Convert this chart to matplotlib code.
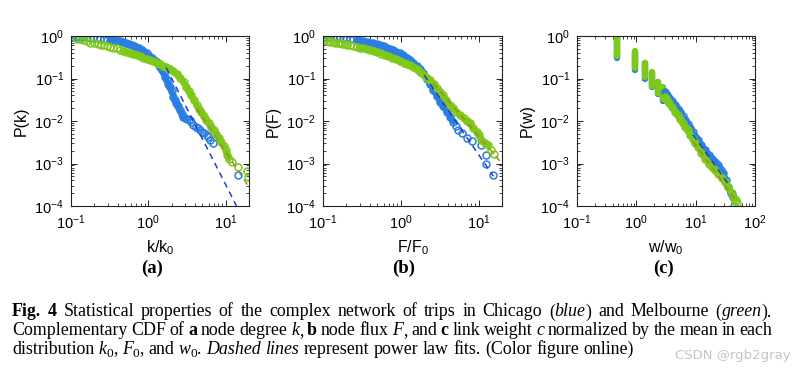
import matplotlib
matplotlib.use("Agg")
import matplotlib.pyplot as plt
from matplotlib.transforms import IdentityTransform
import numpy as np

plt.rcParams['font.family'] = ['Liberation Sans', 'DejaVu Sans']
plt.rcParams['mathtext.default'] = 'regular'

# ---- data (CCDFs, Chicago = blue, Melbourne = green)
# (a) node degree
chi_k_x = [0.100, 0.107, 0.115, 0.123, 0.132, 0.145, 0.160, 0.175, 0.190, 0.215,
           0.240, 0.265, 0.290, 0.320, 0.350, 0.390, 0.430, 0.470, 0.520, 0.560,
           0.610, 0.660, 0.700, 0.760, 0.820, 0.880, 0.950, 1.02, 1.10, 1.19,
           1.28, 1.36, 1.43, 1.50, 1.57, 1.64, 1.72, 1.80, 1.90, 2.00,
           2.10, 2.20, 2.30, 2.43, 2.55, 2.70, 2.83, 3.00, 3.20, 3.44,
           3.60, 3.80, 4.10, 4.42, 4.65, 4.88, 5.30, 5.67, 5.95, 6.25,
           6.90, 14.5]
chi_k_y = [0.93, 0.95, 0.95, 0.94, 0.94, 0.93, 0.93, 0.92, 0.91, 0.88,
           0.86, 0.84, 0.81, 0.80, 0.79, 0.78, 0.75, 0.73, 0.70, 0.66,
           0.62, 0.58, 0.56, 0.51, 0.46, 0.42, 0.39, 0.34, 0.30, 0.27,
           0.25, 0.21, 0.19, 0.16, 0.135, 0.11, 0.09, 0.075, 0.064, 0.050,
           0.037, 0.031, 0.026, 0.022, 0.018, 0.015, 0.0126, 0.0118, 0.0112, 0.0106,
           0.0095, 0.0081, 0.0074, 0.0067, 0.0061, 0.0056, 0.0052, 0.0047, 0.0042, 0.0036,
           0.0030, 0.00054]
mel_k_x = [0.120, 0.131, 0.145, 0.160, 0.176, 0.200, 0.225, 0.245, 0.265, 0.290,
           0.320, 0.350, 0.390, 0.430, 0.474, 0.520, 0.580, 0.640, 0.705, 0.780,
           0.860, 0.950, 1.05, 1.15, 1.28, 1.41, 1.55, 1.70, 1.90, 2.10,
           2.35, 2.60, 2.85, 3.10, 3.35, 3.60, 3.90, 4.20, 4.50, 4.80,
           5.20, 5.60, 6.00, 6.50, 7.00, 7.60, 8.20, 8.80, 9.40, 10.0,
           10.5, 11.0, 12.0, 14.3, 18.8, 19.3]
mel_k_y = [0.86, 0.84, 0.80, 0.75, 0.70, 0.68, 0.65, 0.63, 0.61, 0.585,
           0.56, 0.535, 0.51, 0.48, 0.45, 0.43, 0.40, 0.38, 0.357, 0.33,
           0.305, 0.29, 0.275, 0.255, 0.235, 0.215, 0.20, 0.185, 0.17, 0.15,
           0.13, 0.105, 0.082, 0.064, 0.050, 0.040, 0.031, 0.024, 0.019, 0.016,
           0.013, 0.0108, 0.0090, 0.0074, 0.0062, 0.0050, 0.0040, 0.0032, 0.0026, 0.0021,
           0.0016, 0.0013, 0.0011, 0.00084, 0.00066, 0.00048]
chi_k_fit_x = [1.7, 13.8]
chi_k_fit_y = [0.18, 1.0e-4]
mel_k_fit_x = [4.2, 20.0]
mel_k_fit_y = [0.02, 2.8e-4]

# (b) node flux
chi_f_x = [0.106, 0.115, 0.123, 0.135, 0.150, 0.165, 0.180, 0.200, 0.220, 0.245,
           0.270, 0.300, 0.330, 0.365, 0.400, 0.440, 0.490, 0.540, 0.600, 0.660,
           0.730, 0.800, 0.880, 0.970, 1.08, 1.20, 1.31, 1.45, 1.60, 1.77,
           1.95, 2.15, 2.35, 2.62, 2.90, 3.19, 3.50, 3.89, 4.30, 4.73,
           5.10, 5.50, 6.07, 7.00, 8.15, 10.9, 12.4, 12.4, 15.1]
chi_f_y = [0.96, 0.96, 0.96, 0.95, 0.94, 0.93, 0.91, 0.89, 0.87, 0.84,
           0.81, 0.78, 0.75, 0.73, 0.70, 0.67, 0.64, 0.61, 0.57, 0.53,
           0.50, 0.47, 0.42, 0.39, 0.36, 0.31, 0.27, 0.23, 0.20, 0.17,
           0.135, 0.10, 0.075, 0.054, 0.039, 0.0285, 0.022, 0.0166, 0.0125, 0.0096,
           0.0077, 0.0061, 0.0051, 0.0039, 0.0033, 0.0027, 0.0016, 0.0010, 0.00054]
mel_f_x = [0.106, 0.115, 0.123, 0.133, 0.143, 0.154, 0.165, 0.178, 0.190, 0.205,
           0.222, 0.245, 0.271, 0.300, 0.330, 0.365, 0.400, 0.450, 0.500, 0.560,
           0.620, 0.690, 0.770, 0.860, 0.980, 1.10, 1.20, 1.31, 1.45, 1.60,
           1.77, 2.00, 2.20, 2.37, 2.65, 2.90, 3.19, 3.50, 3.85, 4.29,
           4.70, 5.20, 5.77, 6.40, 7.00, 7.76, 8.60, 9.46, 10.2, 10.9,
           12.0, 13.3, 14.5, 15.8]
mel_f_y = [0.80, 0.76, 0.73, 0.71, 0.70, 0.685, 0.67, 0.66, 0.65, 0.63,
           0.61, 0.585, 0.56, 0.535, 0.51, 0.49, 0.47, 0.44, 0.415, 0.385,
           0.355, 0.33, 0.305, 0.28, 0.255, 0.235, 0.22, 0.205, 0.19, 0.17,
           0.145, 0.12, 0.105, 0.092, 0.075, 0.06, 0.049, 0.04, 0.031, 0.024,
           0.020, 0.0165, 0.0139, 0.0115, 0.0101, 0.0089, 0.0068, 0.0056, 0.0046, 0.0036,
           0.0031, 0.0027, 0.0021, 0.0017]
chi_f_fit_x = [2.0, 15.5]
chi_f_fit_y = [0.12, 5.0e-4]
mel_f_fit_x = [2.6, 20.0]
mel_f_fit_y = [0.078, 1.0e-3]

# (c) link weight: vertical runs of tied values, then the continuous tail
w_stack_x = [0.467, 0.934, 1.40, 1.87, 2.33, 2.80]
mel_stack_top = [1.0, 0.44, 0.236, 0.14, 0.084, 0.062]
mel_stack_bot = [0.34, 0.174, 0.11, 0.067, 0.045, 0.033]
chi_stack_top = [0.95, 0.42, 0.23, 0.135, 0.082, 0.06]
chi_stack_bot = [0.31, 0.16, 0.10, 0.062, 0.043, 0.030]
chi_w_x = [3.05, 3.30, 3.60, 4.00, 4.50, 5.00, 5.50, 6.00, 6.60, 7.30,
           8.00, 8.90, 9.80, 11.0, 12.5, 14.4, 16.5, 18.8, 21.2, 24.0,
           26.5, 29.3, 32.0, 35.5, 39.0, 43.0, 45.0]
chi_w_y = [0.049, 0.042, 0.035, 0.029, 0.024, 0.019, 0.016, 0.013, 0.0106, 0.0085,
           0.0070, 0.0055, 0.0043, 0.0035, 0.0027, 0.0021, 0.0016, 0.0013, 0.0011, 0.0009,
           0.00072, 0.00059, 0.00042, 0.00028, 0.00020, 0.000166, 0.00010]
mel_w_x = [3.05, 3.30, 3.60, 4.00, 4.50, 5.00, 5.50, 6.00, 6.60, 7.30,
           8.00, 8.90, 9.80, 11.0, 12.5, 14.4, 16.5, 18.8, 21.2, 24.0,
           27.5, 31.3, 35.5, 40.6, 44.0, 46.0, 48.0, 49.0]
mel_w_y = [0.037, 0.031, 0.026, 0.021, 0.0166, 0.0135, 0.011, 0.0092, 0.0074, 0.0060,
           0.0048, 0.0038, 0.0030, 0.0024, 0.0018, 0.0013, 0.0010, 0.00083, 0.00070, 0.00058,
           0.00046, 0.00037, 0.00028, 0.00020, 0.00015, 0.00013, 0.00014, 0.00012]
chi_w_fit_x = [9.0, 38.0]
chi_w_fit_y = [0.0048, 2.9e-4]
mel_w_fit_x = [9.0, 45.0]
mel_w_fit_y = [0.0033, 1.5e-4]

BLUE = '#2a7ee2'
GREEN = '#7ec81a'
BLUE_FIT = '#1f3fcf'
GREEN_FIT = '#a08c30'

W, H = 792, 368
fig = plt.figure(figsize=(W / 100, H / 100), dpi=100)


def make_axes(left_px, right_px, xmax):
    top_px, bot_px = 36, 206
    ax = fig.add_axes([left_px / W, 1 - bot_px / H, (right_px - left_px) / W, (bot_px - top_px) / H])
    ax.set_xscale('log')
    ax.set_yscale('log')
    ax.set_xlim(0.1, xmax)
    ax.set_ylim(1e-4, 1)
    ax.tick_params(which='both', direction='in', top=True, right=True,
                   labelsize=10.5, pad=5, color='#222222')
    ax.tick_params(which='major', length=4, width=0.7)
    ax.tick_params(which='minor', length=2, width=0.6)
    for s in ax.spines.values():
        s.set_linewidth(0.8)
        s.set_color('#222222')
    return ax


def ccdf(ax, x, y, color, dense):
    x = np.asarray(x)
    y = np.asarray(y)
    m = (x >= dense[0]) & (x <= dense[1])
    ax.plot(x[m], y[m], '-', color=color, lw=4.2,
            solid_capstyle='round', solid_joinstyle='round')
    ax.plot(x, y, 'o', ms=5, mfc='none', mec=color, mew=1.1)


def fit(ax, x, y, color):
    ax.plot(x, y, '--', color=color, lw=1.1, dashes=(4, 3))


ax_a = make_axes(71, 249, 20)
ccdf(ax_a, chi_k_x, chi_k_y, BLUE, (0.3, 3.0))
ccdf(ax_a, mel_k_x, mel_k_y, GREEN, (0.45, 11.0))
fit(ax_a, chi_k_fit_x, chi_k_fit_y, BLUE_FIT)
fit(ax_a, mel_k_fit_x, mel_k_fit_y, GREEN_FIT)
ax_a.set_xlabel('k/k$_0$', fontsize=11.5)
ax_a.set_ylabel('P(k)', fontsize=11.5)

ax_b = make_axes(323, 502, 20)
ccdf(ax_b, chi_f_x, chi_f_y, BLUE, (0.25, 5.0))
ccdf(ax_b, mel_f_x, mel_f_y, GREEN, (0.3, 13.5))
fit(ax_b, chi_f_fit_x, chi_f_fit_y, BLUE_FIT)
fit(ax_b, mel_f_fit_x, mel_f_fit_y, GREEN_FIT)
ax_b.set_xlabel('F/F$_0$', fontsize=11.5)
ax_b.set_ylabel('P(F)', fontsize=11.5)

ax_c = make_axes(577, 755, 100)
for top, bot, col in [(chi_stack_top, chi_stack_bot, BLUE), (mel_stack_top, mel_stack_bot, GREEN)]:
    lc = ax_c.vlines(w_stack_x, bot, top, colors=col, lw=4.6)
    lc.set_capstyle('round')
ccdf(ax_c, chi_w_x, chi_w_y, BLUE, (3.0, 43.0))
ccdf(ax_c, mel_w_x, mel_w_y, GREEN, (3.0, 44.5))
fit(ax_c, chi_w_fit_x, chi_w_fit_y, BLUE_FIT)
fit(ax_c, mel_w_fit_x, mel_w_fit_y, GREEN_FIT)
ax_c.set_xlabel('w/w$_0$', fontsize=11.5)
ax_c.set_ylabel('P(w)', fontsize=11.5)

for ax in (ax_a, ax_b, ax_c):
    ax.xaxis.labelpad = 5
    ax.yaxis.labelpad = 4

# panel letters
SERIF = ['Liberation Serif', 'DejaVu Serif']
for xc, lab in [(152, '(a)'), (404, '(b)'), (663, '(c)')]:
    fig.text(xc, H - 268, lab, transform=IdentityTransform(), ha='center', va='center',
             family=SERIF, fontweight='bold', fontsize=13.5)

# ---- caption with mixed styles
cap1 = [('Fig. 4', 'b'), (' Statistical properties of the complex network of trips in Chicago (', 'n'),
        ('blue', 'i'), (') and Melbourne (', 'n'), ('green', 'i'), (').', 'n')]
cap2 = [('Complementary CDF of ', 'n'), ('a', 'b'), (' node degree ', 'n'), ('k', 'i'), (', ', 'n'),
        ('b', 'b'), (' node flux ', 'n'), ('F', 'i'), (', and ', 'n'), ('c', 'b'),
        (' link weight ', 'n'), ('c', 'i'), (' normalized by the mean in each', 'n')]
cap3 = [('distribution ', 'n'), ('k', 'i'), ('0', 's'), (', ', 'n'), ('F', 'i'), ('0', 's'),
        (', and ', 'n'), ('w', 'i'), ('0', 's'), ('. ', 'n'), ('Dashed lines', 'i'),
        (' represent power law fits. (Color figure online)', 'n')]


def to_words(segments):
    words = [[]]
    for text, st in segments:
        for i, p in enumerate(text.split(' ')):
            if i > 0:
                words.append([])
            if p:
                words[-1].append((p, st))
    return [w for w in words if w]


renderer = fig.canvas.get_renderer()


def draw_caption(segments, x0, baseline, size, right=None):
    px = size * fig.dpi / 72.0
    placed, widths = [], []
    for word in to_words(segments):
        parts, ww = [], 0.0
        for text, st in word:
            kw = dict(family=SERIF, fontsize=size, va='baseline', ha='left',
                      transform=IdentityTransform())
            dy = 0.0
            if st == 'b':
                kw['fontweight'] = 'bold'
            elif st == 'i':
                kw['fontstyle'] = 'italic'
            elif st == 's':
                kw['fontsize'] = size * 0.75
                dy = -0.18 * px
            t = fig.text(0, H - baseline + dy, text, **kw)
            parts.append((t, ww))
            ww += t.get_window_extent(renderer).width
        placed.append(parts)
        widths.append(ww)
    gap = 0.25 * px
    if right is not None:
        gap = (right - x0 - sum(widths)) / (len(widths) - 1)
    x = x0
    for parts, ww in zip(placed, widths):
        for t, off in parts:
            t.set_x(x + off)
        x += ww + gap


draw_caption(cap1, 12, 316.5, 12.9, right=772)
draw_caption(cap2, 12, 335, 12.9, right=772)
draw_caption(cap3, 12, 353.5, 12.9)

fig.text(675, H - 359, 'CSDN @rgb2gray', transform=IdentityTransform(), ha='left',
         va='baseline', fontsize=9.5, color='#c4c4c4', family=['DejaVu Sans'])

fig.savefig('out.png', dpi=100)
